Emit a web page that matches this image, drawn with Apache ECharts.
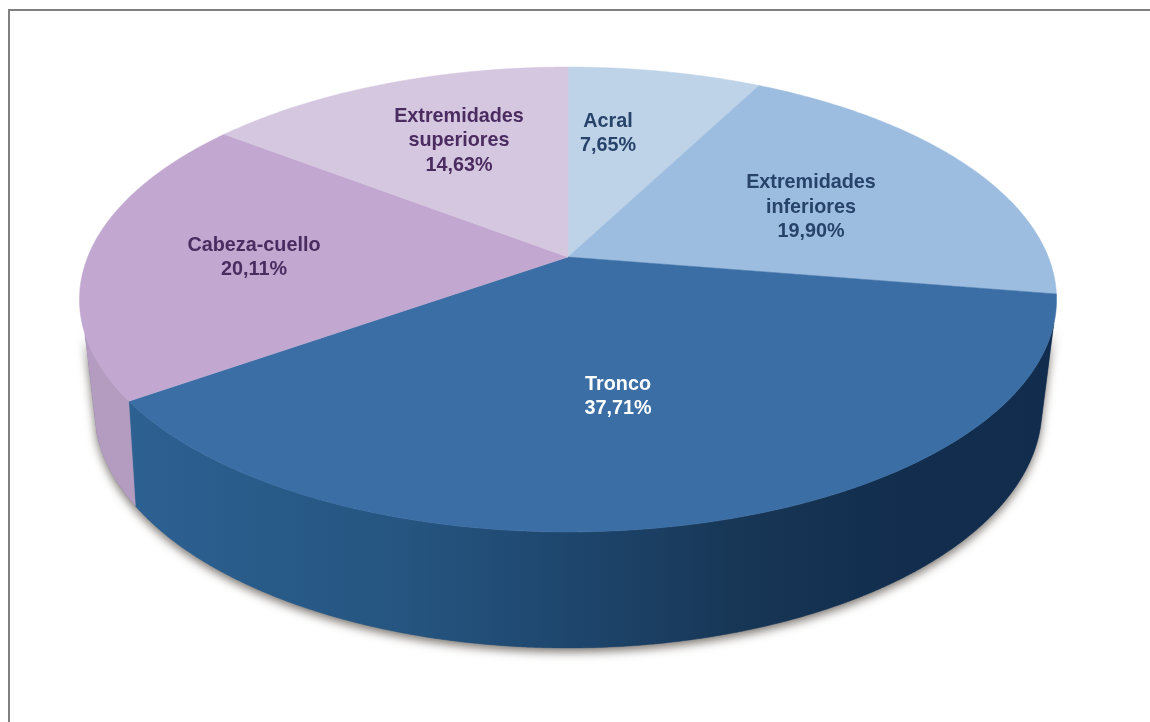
<!DOCTYPE html>
<html>
<head>
<meta charset="utf-8">
<style>html,body{margin:0;padding:0;background:#fff}#chart{width:1150px;height:722px}</style>
<script src="https://cdn.jsdelivr.net/npm/echarts@6/dist/echarts.min.js"></script>
</head>
<body>
<div id="chart"></div>
<script>
// Localización de las lesiones (%), en sentido horario desde las 12
const categories = ['Acral', 'Extremidades\ninferiores', 'Tronco', 'Cabeza-cuello', 'Extremidades\nsuperiores'];
const shares = [7.65, 19.90, 37.71, 20.11, 14.63];

const faceColors = ['#bed3e8', '#9dbde0', '#3a6ea5', '#c2a8d0', '#d6c7e0'];
const textColors = ['#27436a', '#27436a', '#ffffff', '#4a2c60', '#4a2c60'];
const labelCentres = [[608, 133.5], [811, 207.5], [618, 396.5], [254, 257.5], [459, 141]];

// Tilted disc: apex, perspective factor and half-axes of the top face and of the base
const disc = { cx: 568, apexY: 257, ax: 480.3, by: 224.7, k: -0.1828 };
const topEllipse = { cx: 568.5, cy: 299.5, a: 488.5, b: 232.5 };
const baseEllipse = { cx: 568, cy: 408, a: 474, b: 240 };
const rimVisible = { from: 6, to: 171.7, baseFrom: 3.5, baseTo: 174 };

const total = shares.reduce((s, v) => s + v, 0);
const starts = shares.map((_, i) => shares.slice(0, i).reduce((s, v) => s + v, 0));
const rad = d => d * Math.PI / 180;

// Point on the top rim for a clockwise angle measured from 12 o'clock
function rimPoint(deg) {
  const u = Math.sin(rad(deg)), v = -Math.cos(rad(deg)), w = 1 + disc.k * v;
  return [disc.cx + disc.ax * u / w, disc.apexY + disc.by * v / w];
}
function ellipseAngle(p) {
  return Math.atan2((p[1] - topEllipse.cy) / topEllipse.b, (p[0] - topEllipse.cx) / topEllipse.a) * 180 / Math.PI;
}
function basePoint(phi) {
  const t = (phi - rimVisible.from) / (rimVisible.to - rimVisible.from);
  const psi = rad(rimVisible.baseFrom + t * (rimVisible.baseTo - rimVisible.baseFrom));
  return [baseEllipse.cx + baseEllipse.a * Math.cos(psi), baseEllipse.cy + baseEllipse.b * Math.sin(psi)];
}
// Outer wall polygon between two angles, or null when that stretch faces away
function wallPoints(fromDeg, toDeg) {
  const up = [], down = [];
  for (let d = fromDeg; d <= toDeg + 1e-6; d += 0.25) {
    const p = rimPoint(d), phi = ellipseAngle(p);
    if (phi >= rimVisible.from && phi <= rimVisible.to) {
      up.push(p);
      down.unshift(basePoint(phi));
    }
  }
  return up.length > 1 ? up.concat(down) : null;
}
function sliceAngles(i) {
  return [starts[i] / total * 360, (starts[i] + shares[i]) / total * 360];
}

const wallFills = {
  2: new echarts.graphic.LinearGradient(127, 0, 1050, 0, [
    { offset: 0, color: '#2d6192' },
    { offset: 0.3, color: '#255580' },
    { offset: 0.48, color: '#1e466d' },
    { offset: 0.68, color: '#173554' },
    { offset: 0.85, color: '#122d4d' },
    { offset: 1, color: '#112c4c' }
  ], true),
  3: '#b49cc0'
};

function renderShadow() {
  return {
    type: 'polygon',
    shape: { points: wallPoints(0, 360) || [] },
    style: { fill: '#6a7a90', shadowBlur: 10, shadowOffsetY: 4, shadowColor: 'rgba(80,72,64,0.75)' }
  };
}
function renderWall(params, api) {
  const i = api.value(0);
  const [a, b] = sliceAngles(i);
  const pts = wallPoints(a, b);
  if (!pts) return null;
  const fill = wallFills[i] || faceColors[i];
  return { type: 'polygon', shape: { points: pts }, style: { fill, stroke: fill, lineWidth: 0.4 } };
}
function renderFace(params, api) {
  const i = api.value(0);
  const [a, b] = sliceAngles(i);
  const pts = [[disc.cx, disc.apexY]];
  for (let d = a; d < b; d += 0.5) pts.push(rimPoint(d));
  pts.push(rimPoint(b));
  return { type: 'polygon', shape: { points: pts }, style: { fill: faceColors[i], stroke: faceColors[i], lineWidth: 0.5 } };
}
function renderLabel(params, api) {
  const i = api.value(0);
  return {
    type: 'text',
    x: labelCentres[i][0],
    y: labelCentres[i][1],
    style: {
      text: categories[i] + '\n' + api.value(1).toFixed(2).replace('.', ',') + '%',
      align: 'center',
      verticalAlign: 'middle',
      fontFamily: '"Liberation Sans", Arial, sans-serif',
      fontWeight: 'bold',
      fontSize: 19.8,
      lineHeight: 24.5,
      fill: textColors[i]
    }
  };
}

const rows = shares.map((v, i) => [i, v]);
const layer = (renderItem, z, data) => ({
  type: 'custom', coordinateSystem: 'none', renderItem, data: data || rows, z, silent: true, animation: false
});

const chart = echarts.init(document.getElementById('chart'), null, { renderer: 'canvas' });
chart.setOption({
  backgroundColor: '#ffffff',
  animation: false,
  graphic: [
    { type: 'line', shape: { x1: 9, y1: 10, x2: 1150, y2: 10 }, style: { stroke: '#808080', lineWidth: 2 } },
    { type: 'line', shape: { x1: 9, y1: 9, x2: 9, y2: 722 }, style: { stroke: '#808080', lineWidth: 2 } }
  ],
  series: [
    layer(renderShadow, 1, [[0, total]]),
    layer(renderWall, 2),
    layer(renderFace, 3),
    layer(renderLabel, 4)
  ]
});
</script>
</body>
</html>
